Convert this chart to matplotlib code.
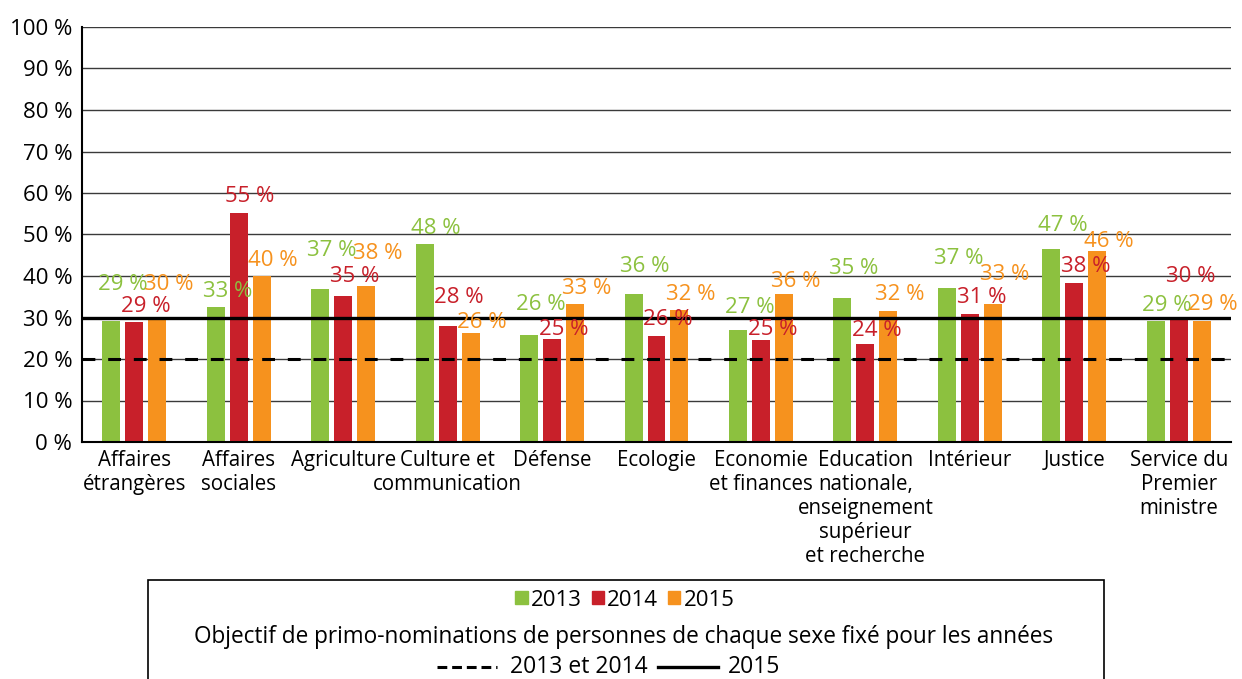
#!/usr/bin/env python3
"""Primo-nominations par ministère, 2013-2015, avec les objectifs fixés."""

import matplotlib
matplotlib.use("Agg")
import matplotlib.pyplot as plt
from matplotlib.lines import Line2D
from matplotlib.patches import Rectangle
import numpy as np

ministeres = [
    "Affaires\nétrangères",
    "Affaires\nsociales",
    "Agriculture",
    "Culture et\ncommunication",
    "Défense",
    "Ecologie",
    "Economie\net finances",
    "Education\nnationale,\nenseignement\nsupérieur\net recherche",
    "Intérieur",
    "Justice",
    "Service du\nPremier\nministre",
]
annees = ["2013", "2014", "2015"]
part_2013 = [29.2, 32.6, 36.8, 47.7, 25.9, 35.6, 27.0, 34.7, 37.1, 46.6, 29.2]
part_2014 = [28.8, 55.3, 35.2, 28.0, 24.9, 25.6, 24.6, 23.6, 30.8, 38.3, 30.2]
part_2015 = [29.9, 40.0, 37.6, 26.2, 33.3, 31.8, 35.6, 31.6, 33.2, 46.0, 29.2]
objectif_2013_2014 = 20
objectif_2015 = 30
yticks = list(range(0, 101, 10))

COLORS = ["#8cc13f", "#c8202a", "#f6921e"]
FONT = "Open Sans"
NARROW = ["Liberation Sans Narrow", "Open Sans"]

# how far above each bar its value label sits (in % units), per year
label_lift = [
    [7.4, 2.4, 8.0, 2.4, 5.9, 5.3, 4.2, 5.8, 5.8, 4.2, 2.4],
    [2.6, 2.6, 3.4, 5.6, 0.9, 2.5, 1.1, 1.9, 2.7, 2.7, 8.4],
    [6.7, 2.4, 6.5, 1.2, 2.4, 2.4, 1.8, 2.6, 5.8, 1.0, 2.6],
]

W, H = 1242, 679


def fx(px):
    return px / W


def fy(py):
    return 1 - py / H


plt.rcParams["font.family"] = FONT

fig = plt.figure(figsize=(W / 100, H / 100), dpi=100)
ax = fig.add_axes([fx(82), fy(442), fx(1231) - fx(82), fy(27) - fy(442)])

x = np.arange(len(ministeres))
step = 0.22
width = 0.172
series = [part_2013, part_2014, part_2015]
for k, (vals, color) in enumerate(zip(series, COLORS)):
    pos = x + (k - 1) * step
    ax.bar(pos, vals, width=width, color=color, zorder=2)
    for xi, v, lift in zip(pos, vals, label_lift[k]):
        ax.text(xi + 0.11, v + lift, f"{v:.0f} %", color=color, fontsize=16,
                ha="center", va="baseline", zorder=5)

ax.axhline(objectif_2015, color="black", lw=2.4, zorder=3)
ax.axhline(objectif_2013_2014, color="black", lw=2.2,
           linestyle=(0, (4.2, 4.2)), zorder=3)

ax.set_xlim(-0.5, len(ministeres) - 0.5)
ax.set_ylim(0, 100)
ax.set_yticks(yticks)
ax.set_yticklabels([f"{t} %" for t in yticks], fontsize=16)
ax.set_xticks(x)
ax.set_xticklabels(ministeres, fontsize=14.8, linespacing=1.18)
ax.tick_params(axis="both", length=0, colors="black")
ax.tick_params(axis="y", pad=7)
ax.tick_params(axis="x", pad=6)
ax.yaxis.grid(True, color="#3a3a3a", lw=1.0, zorder=0)
ax.set_axisbelow(True)
for side in ["top", "right"]:
    ax.spines[side].set_visible(False)
for side in ["left", "bottom"]:
    ax.spines[side].set_linewidth(1.5)
    ax.spines[side].set_color("black")
    ax.spines[side].set_zorder(4)

# legend frame, open at the bottom of the canvas
fig.add_artist(Rectangle((fx(148), fy(700)), fx(1104) - fx(148), fy(580) - fy(700),
                         transform=fig.transFigure, fill=False,
                         edgecolor="black", lw=1.2))

bar_handles = [Rectangle((0, 0), 1, 1, color=c) for c in COLORS]
fig.legend(bar_handles, annees, loc="center", bbox_to_anchor=(fx(625), fy(600)),
           ncol=3, frameon=False, handlelength=0.55, handleheight=0.55,
           handletextpad=0.15, columnspacing=0.45,
           prop={"family": NARROW, "size": 16})

fig.text(fx(624), fy(637),
         "Objectif de primo-nominations de personnes de chaque sexe fixé pour les années",
         ha="center", va="center", fontsize=16.3)

fig.add_artist(Line2D([fx(437), fx(497)], [fy(667), fy(667)], transform=fig.transFigure,
                      color="black", lw=2.2, linestyle=(0, (3.2, 1.6))))
fig.text(fx(510), fy(667), "2013 et 2014", ha="left", va="center",
         fontsize=16.5, family=NARROW)
fig.add_artist(Line2D([fx(658), fx(718)], [fy(667), fy(667)], transform=fig.transFigure,
                      color="black", lw=2.4))
fig.text(fx(728), fy(667), "2015", ha="left", va="center",
         fontsize=16.5, family=NARROW)

fig.savefig("out.png", dpi=100)
